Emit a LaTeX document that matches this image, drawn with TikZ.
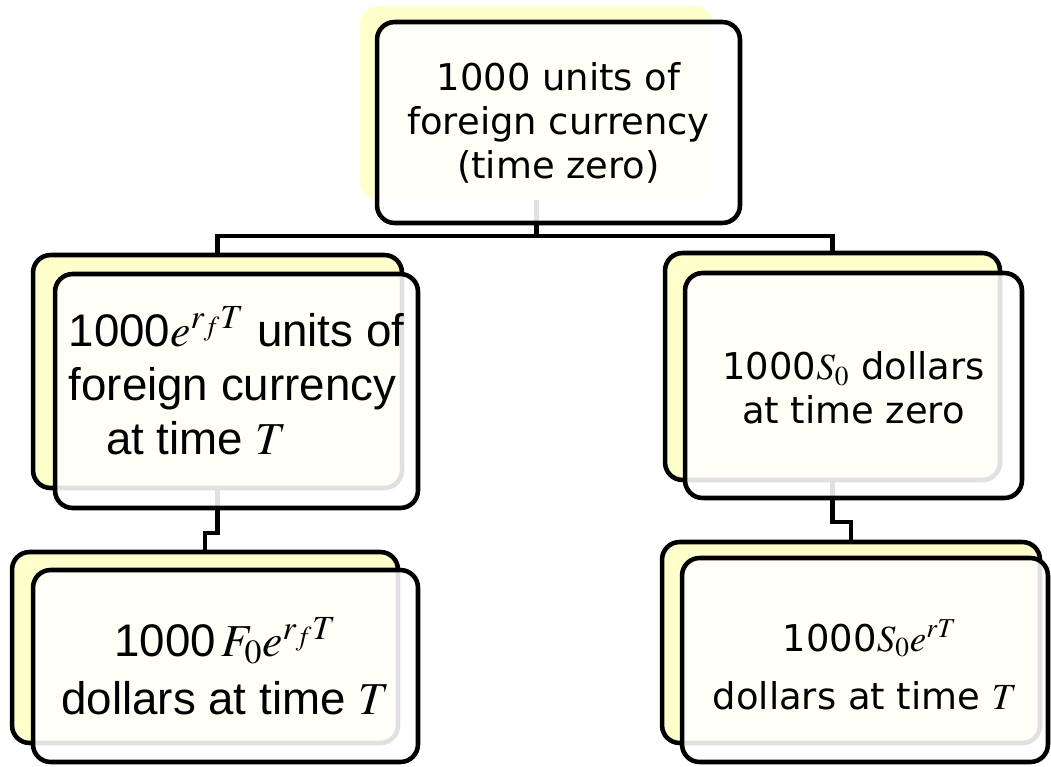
\documentclass[tikz,border=0pt]{standalone}
\usepackage{mathptmx}
\usepackage{fontspec}
\setmainfont{DejaVu Sans}
\newfontfamily\arialfont{Liberation Sans}
\usetikzlibrary{positioning}

\definecolor{paleyellow}{HTML}{FFFFCC}
\pgfdeclarelayer{bg}
\pgfsetlayers{bg,main}

\tikzset{
  backbox/.style={draw=black, line width=2.6pt, rounded corners=10pt, fill=paleyellow},
  frontbox/.style={draw=black, line width=2.6pt, rounded corners=10pt, fill=white,
    fill opacity=0.88, inner sep=0pt},
  link/.style={line width=2.6pt, black},
  tahoma/.style={align=center, font=\fontsize{21}{25}\selectfont},
  arial/.style={align=center, font=\arialfont\fontsize{26}{31}\selectfont}
}

\begin{document}
\begin{tikzpicture}[x=0.02cm, y=-0.02cm]
  \useasboundingbox (0,0) rectangle (1051,767);

  % Boite du haut
  \node[backbox, draw=none, minimum width=7.06cm, minimum height=3.88cm] (topb) at (536.5,103) {};
  \node[frontbox, minimum width=7.26cm, minimum height=4.02cm] (topf) at (558.5,122.5) {};
  \node[tahoma] (topt) at (topf.center) {1000 units of\\foreign currency\\(time zero)};

  % Branche gauche
  \node[backbox, minimum width=7.38cm, minimum height=4.66cm] (lmb) at (217.5,371.5) {};
  \node[frontbox, minimum width=7.26cm, minimum height=4.68cm] (lmf) at (236.5,391) {};
  \node[arial, align=left] (lmt) at ([yshift=0.2cm]lmf.center)
    {1000$e^{r_fT}$ units of\\foreign currency\\\hspace*{0.75cm}at time $T$};
  \node[backbox, minimum width=7.72cm, minimum height=3.82cm] (lbb) at (205,647.5) {};
  \node[frontbox, minimum width=7.70cm, minimum height=3.84cm] (lbf) at (225.5,666) {};
  \node[arial] (lbt) at (lbf.center) {1000$\,F_0e^{r_fT}$\\[2pt]dollars at time $T$};

  % Branche droite
  \node[backbox, minimum width=6.70cm, minimum height=4.54cm] (rmb) at (832.5,366.5) {};
  \node[frontbox, minimum width=6.74cm, minimum height=4.50cm] (rmf) at (853.5,385.5) {};
  \node[tahoma] (rmt) at ([yshift=-0.05cm]rmf.center) {1000$S_0$ dollars\\at time zero};
  \node[backbox, minimum width=7.56cm, minimum height=4.02cm] (rbb) at (851,642.5) {};
  \node[frontbox, minimum width=7.32cm, minimum height=4.08cm] (rbf) at (865,660) {};
  \node[tahoma] (rbt) at ([yshift=-0.1cm]rbf.center)
    {\hspace*{0.2cm}1000$S_0e^{rT}$\\[8pt]dollars at time $T$};

  % Liaisons
  \coordinate (bus) at (0,236);
  \coordinate (jl) at (0,533);
  \coordinate (jr) at (0,522);
  \begin{pgfonlayer}{bg}
    \draw[link] (topb.center) -- (topb.center |- bus);
    \draw[link] (lmb.north) -- (lmb.north |- bus) -- (rmb.north |- bus) -- (rmb.north);
    \draw[link] (lmb.center) -- (lmb.center |- jl) -| (lbb.north);
    \draw[link] (rmb.center) -- (rmb.center |- jr) -| (rbb.north);
  \end{pgfonlayer}
\end{tikzpicture}
\end{document}
